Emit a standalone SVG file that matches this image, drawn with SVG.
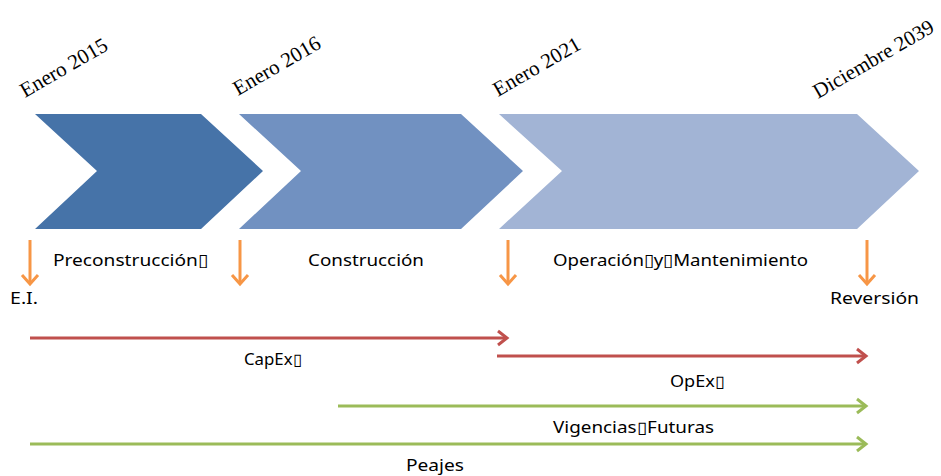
<svg xmlns="http://www.w3.org/2000/svg" width="941" height="476" viewBox="0 0 941 476">
<style>
.date{font-family:"Liberation Serif","Times New Roman",serif;font-size:21px;fill:#000}
.lbl{font-family:"Noto Sans","Open Sans",sans-serif;font-size:17px;fill:#000}
.sm{font-family:"Noto Sans","Open Sans",sans-serif;font-size:16px;fill:#000}
.orange{stroke:#F79646;stroke-width:3;fill:none}
.red{stroke:#C0504D;stroke-width:3;fill:none}
.green{stroke:#9BBB59;stroke-width:3;fill:none}
</style>
<defs>
<marker id="ah-o" markerUnits="userSpaceOnUse" markerWidth="20" markerHeight="20" viewBox="-10 -10 20 20" refX="0" refY="0" orient="auto">
<polyline points="-9,-8 0,0 -9,8" fill="none" stroke="#F79646" stroke-width="3"/>
</marker>
<marker id="ah-r" markerUnits="userSpaceOnUse" markerWidth="20" markerHeight="20" viewBox="-10 -10 20 20" refX="0" refY="0" orient="auto">
<polyline points="-9,-7 0,0 -9,7" fill="none" stroke="#C0504D" stroke-width="3"/>
</marker>
<marker id="ah-g" markerUnits="userSpaceOnUse" markerWidth="20" markerHeight="20" viewBox="-10 -10 20 20" refX="0" refY="0" orient="auto">
<polyline points="-9,-7 0,0 -9,7" fill="none" stroke="#9BBB59" stroke-width="3"/>
</marker>
</defs>
<rect width="941" height="476" fill="#fff"/>

<g id="phase-preconstruccion">
<polygon points="35,114 201,114 263,171 201,229 35,229 97,171" fill="#4673A8"/>
<text class="lbl" x="53" y="266" textLength="155" lengthAdjust="spacingAndGlyphs">Preconstrucción▯</text>
</g>
<g id="phase-construccion">
<polygon points="239,114 461,114 523,171 461,229 239,229 301,171" fill="#7191C1"/>
<text class="lbl" x="308" y="266" textLength="116" lengthAdjust="spacingAndGlyphs">Construcción</text>
</g>
<g id="phase-operacion">
<polygon points="499,114 857,114 919,171 857,229 499,229 562,171" fill="#A2B4D5"/>
<text class="lbl" x="553" y="266" textLength="255" lengthAdjust="spacingAndGlyphs">Operación▯y▯Mantenimiento</text>
</g>

<g id="dates">
<text class="date" transform="translate(25,98) rotate(-30)">Enero 2015</text>
<text class="date" transform="translate(238,96) rotate(-30)">Enero 2016</text>
<text class="date" transform="translate(498,97) rotate(-30)">Enero 2021</text>
<text class="date" transform="translate(818,99) rotate(-30)">Diciembre 2039</text>
</g>

<g id="milestones">
<g id="ms-ei"><text class="lbl" x="10" y="304" textLength="28" lengthAdjust="spacingAndGlyphs">E.I.</text></g>
<g id="ms-reversion"><text class="lbl" x="830" y="304" textLength="89" lengthAdjust="spacingAndGlyphs">Reversión</text></g>
</g>

<g id="connectors">
<line class="orange" x1="30" y1="240" x2="30" y2="284" marker-end="url(#ah-o)"/>
<line class="orange" x1="240" y1="240" x2="240" y2="284" marker-end="url(#ah-o)"/>
<line class="orange" x1="508" y1="240" x2="508" y2="284" marker-end="url(#ah-o)"/>
<line class="orange" x1="867" y1="240" x2="867" y2="284" marker-end="url(#ah-o)"/>
<line class="red" x1="30" y1="338" x2="507" y2="338" marker-end="url(#ah-r)"/>
<line class="red" x1="497" y1="356" x2="866" y2="356" marker-end="url(#ah-r)"/>
<line class="green" x1="338" y1="406" x2="866" y2="406" marker-end="url(#ah-g)"/>
<line class="green" x1="30" y1="444" x2="866" y2="444" marker-end="url(#ah-g)"/>
</g>

<g id="flows">
<g id="capex"><text class="sm" x="244" y="365" textLength="58" lengthAdjust="spacingAndGlyphs">CapEx▯</text></g>
<g id="opex"><text class="sm" x="670" y="387" textLength="55" lengthAdjust="spacingAndGlyphs">OpEx▯</text></g>
<g id="vigencias"><text class="sm" x="553" y="433" textLength="161" lengthAdjust="spacingAndGlyphs">Vigencias▯Futuras</text></g>
<g id="peajes"><text class="sm" x="406" y="471" textLength="58" lengthAdjust="spacingAndGlyphs">Peajes</text></g>
</g>
</svg>
